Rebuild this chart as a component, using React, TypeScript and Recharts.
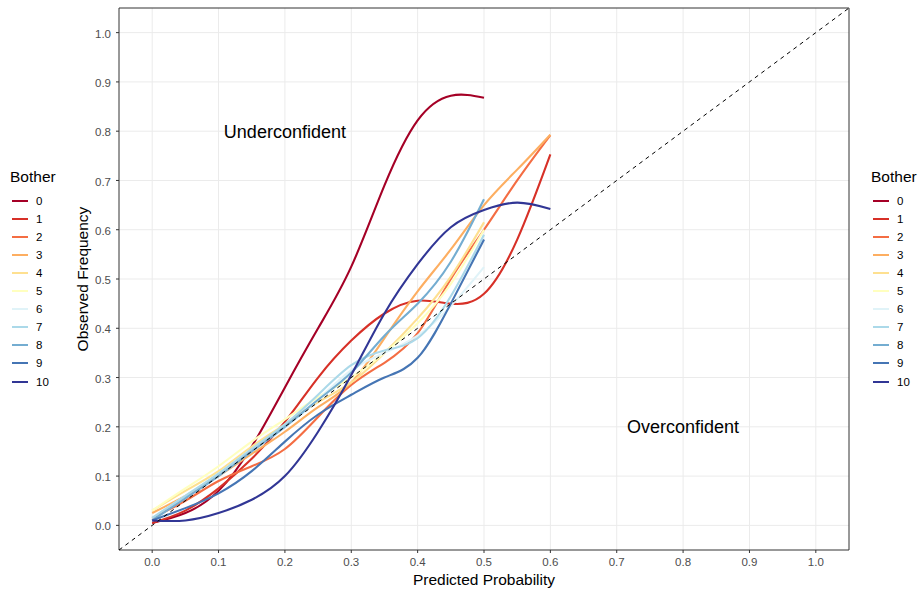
import React from 'react';
import { LineChart, Line, XAxis, YAxis, CartesianGrid, ReferenceLine, ReferenceArea, ReferenceDot } from 'recharts';

const predicted = [0, 0.05, 0.1, 0.15, 0.2, 0.25, 0.3, 0.35, 0.4, 0.45, 0.5, 0.55, 0.6];
const bother0 = [0.005, 0.025, 0.07, 0.16, 0.28, 0.4, 0.525, 0.69, 0.822, 0.872, 0.868, null, null];
const bother1 = [0.005, 0.03, 0.075, 0.135, 0.21, 0.3, 0.375, 0.43, 0.456, 0.45, 0.47, 0.58, 0.753];
const bother2 = [0.015, 0.05, 0.09, 0.12, 0.155, 0.22, 0.285, 0.33, 0.39, 0.5, 0.6, 0.7, 0.792];
const bother3 = [0.025, 0.06, 0.1, 0.145, 0.19, 0.24, 0.29, 0.38, 0.475, 0.56, 0.65, 0.722, 0.793];
const bother4 = [0.03, 0.07, 0.11, 0.16, 0.205, 0.25, 0.29, 0.35, 0.42, 0.505, 0.615, null, null];
const bother5 = [0.03, 0.075, 0.12, 0.17, 0.215, 0.26, 0.3, 0.35, 0.41, 0.49, 0.6, null, null];
const bother6 = [0.015, 0.06, 0.105, 0.155, 0.2, 0.255, 0.315, 0.35, 0.385, 0.445, 0.524, null, null];
const bother7 = [0.015, 0.06, 0.105, 0.155, 0.205, 0.265, 0.325, 0.355, 0.38, 0.465, 0.59, null, null];
const bother8 = [0.01, 0.055, 0.1, 0.15, 0.2, 0.255, 0.31, 0.385, 0.45, 0.535, 0.662, null, null];
const bother9 = [0.01, 0.035, 0.065, 0.11, 0.17, 0.225, 0.265, 0.3, 0.34, 0.45, 0.58, null, null];
const bother10 = [0.01, 0.01, 0.025, 0.052, 0.1, 0.19, 0.305, 0.43, 0.53, 0.605, 0.64, 0.655, 0.642];

const seriesNames = ['0', '1', '2', '3', '4', '5', '6', '7', '8', '9', '10'];
const seriesValues = [bother0, bother1, bother2, bother3, bother4, bother5, bother6, bother7, bother8, bother9, bother10];
const colors = ['#A50026', '#D73027', '#F46D43', '#FDAE61', '#FEE090', '#FFFFBF', '#E0F3F8', '#ABD9E9', '#74ADD1', '#4575B4', '#313695'];
const axisTicks = [0, 0.1, 0.2, 0.3, 0.4, 0.5, 0.6, 0.7, 0.8, 0.9, 1.0];

const data = predicted.map((p, i) => {
  const row: Record<string, number | null> = { p };
  seriesNames.forEach((n, j) => {
    row['b' + n] = seriesValues[j][i];
  });
  return row;
});

const FONT = '"Liberation Sans", Arial, sans-serif';

function Legend({ left }: { left: number }) {
  return (
    <div style={{ position: 'absolute', left, top: 168, fontFamily: FONT }}>
      <div style={{ fontSize: 15.5, color: '#000', height: 18, lineHeight: '18px' }}>Bother</div>
      {seriesNames.map((n, i) => (
        <div key={n} style={{ position: 'absolute', top: 24.5 + i * 18.1, left: 0, height: 16, display: 'flex', alignItems: 'center' }}>
          <div style={{ width: 16, height: 2, background: colors[i], marginLeft: 2 }} />
          <div style={{ marginLeft: 8, fontSize: 11.5, color: '#000' }}>{n}</div>
        </div>
      ))}
    </div>
  );
}

export default function App() {
  return (
    <div style={{ position: 'fixed', left: 0, top: 0, width: 920, height: 590, background: '#fff' }}>
      <LineChart width={920} height={590} data={data} margin={{ top: 8, right: 71, bottom: 0, left: 79 }}>
        <CartesianGrid stroke="#ebebeb" strokeWidth={1} horizontalValues={axisTicks} verticalValues={axisTicks} />
        <XAxis
          dataKey="p"
          type="number"
          domain={[-0.05, 1.05]}
          ticks={axisTicks}
          tickFormatter={(v: number) => v.toFixed(1)}
          height={40}
          axisLine={false}
          tickLine={{ stroke: '#333' }}
          tickSize={3}
          tickMargin={5}
          tick={{ fontSize: 11.5, fill: '#4d4d4d', fontFamily: FONT }}
          allowDataOverflow
        />
        <YAxis
          type="number"
          domain={[-0.05, 1.05]}
          ticks={axisTicks}
          tickFormatter={(v: number) => v.toFixed(1)}
          width={40}
          axisLine={false}
          tickLine={{ stroke: '#333' }}
          tickSize={3}
          tickMargin={5}
          tick={{ fontSize: 11.5, fill: '#4d4d4d', fontFamily: FONT, dy: 1 }}
          allowDataOverflow
        />
        {seriesNames.map((n, i) => (
          <Line
            key={n}
            dataKey={'b' + n}
            type="natural"
            stroke={colors[i]}
            strokeWidth={2.1}
            dot={false}
            activeDot={false}
            isAnimationActive={false}
          />
        ))}
        <ReferenceLine
          segment={[{ x: -0.05, y: -0.05 }, { x: 1.05, y: 1.05 }]}
          stroke="#000"
          strokeWidth={1}
          strokeDasharray="4 4"
        />
        <ReferenceArea x1={-0.05} x2={1.05} y1={-0.05} y2={1.05} fill="none" stroke="#333" strokeWidth={1} />
        <ReferenceDot x={0.2} y={0.8} r={0} fill="none" stroke="none"
          label={{ value: 'Underconfident', position: 'center', fontSize: 18, fill: '#000', fontFamily: FONT }} />
        <ReferenceDot x={0.8} y={0.2} r={0} fill="none" stroke="none"
          label={{ value: 'Overconfident', position: 'center', fontSize: 18, fill: '#000', fontFamily: FONT }} />
        <text x={484} y={585} textAnchor="middle" fontSize={15.5} fontFamily={FONT} fill="#000">Predicted Probability</text>
        <text x={88} y={279} textAnchor="middle" fontSize={15.5} fontFamily={FONT} fill="#000" transform="rotate(-90 88 279)">Observed Frequency</text>
      </LineChart>
      <Legend left={10} />
      <Legend left={871} />
    </div>
  );
}
